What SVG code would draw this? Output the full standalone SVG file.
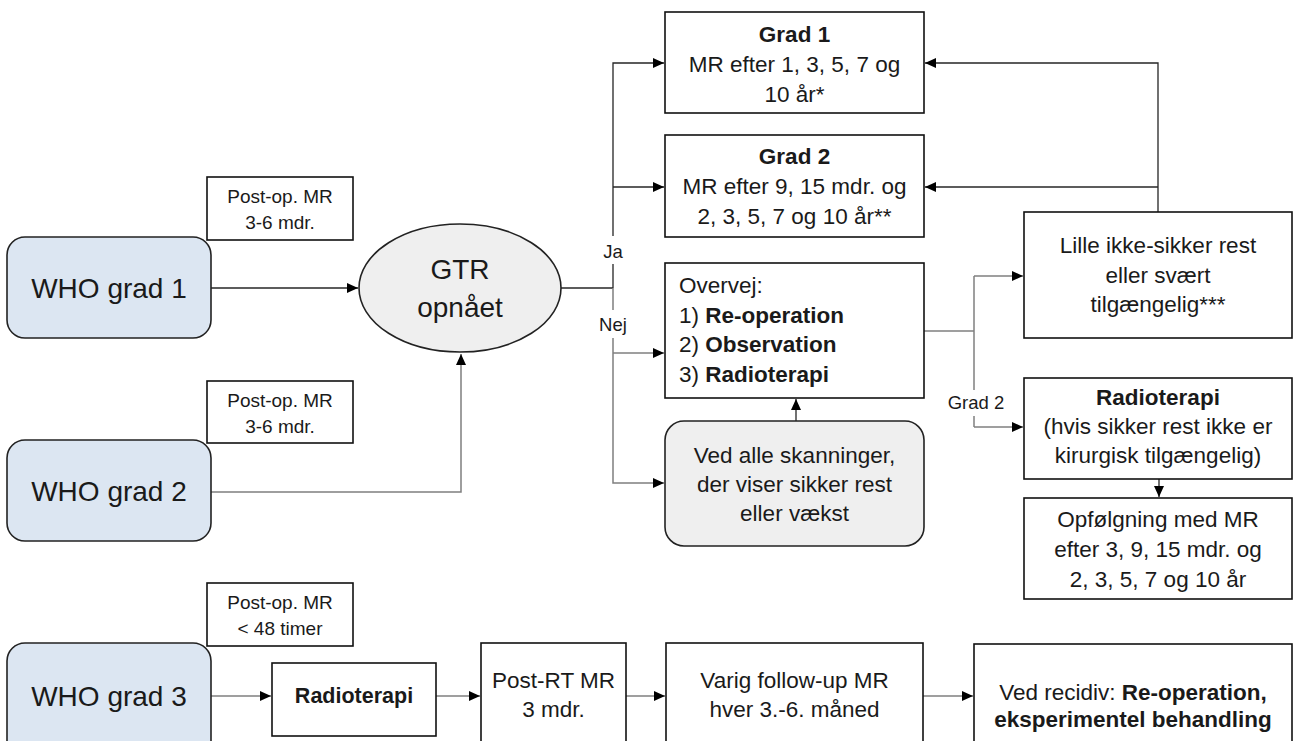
<svg xmlns="http://www.w3.org/2000/svg" width="1294" height="741" viewBox="0 0 1294 741">
<style>
text{font-family:"Liberation Sans",Arial,sans-serif;fill:#1a1a1a}
.t{font-size:22.5px;text-anchor:middle}
.tl{font-size:22.5px}
.big{font-size:28px;text-anchor:middle}
.sm{font-size:19px;text-anchor:middle}
.lbl{font-size:18.5px;text-anchor:middle}
.b{font-weight:bold}
.box{fill:#fff;stroke:#111;stroke-width:1.6}
.who{fill:#dce6f2;stroke:#222;stroke-width:1.6}
.grey{fill:#efefef;stroke:#222;stroke-width:1.6}
.cd{fill:none;stroke:#262626;stroke-width:1.3}
.cg{fill:none;stroke:#7f7f7f;stroke-width:1.5}
</style>
<defs>
<marker id="ah" markerUnits="userSpaceOnUse" markerWidth="11" markerHeight="10" refX="11" refY="5" orient="auto">
<path d="M0,0 L11,5 L0,10 z" fill="#000"/>
</marker>
</defs>
<rect width="1294" height="741" fill="#fff"/>

<g id="connectors">
<path class="cd" d="M211 288 H358" marker-end="url(#ah)"/>
<path class="cd" d="M560 288 H613"/>
<path class="cd" d="M613 288 V63 H664" marker-end="url(#ah)"/>
<path class="cd" d="M613 187 H664" marker-end="url(#ah)"/>
<path class="cg" d="M211 492 H461 V354" marker-end="url(#ah)"/>
<path class="cg" d="M613 288 V483 H664" marker-end="url(#ah)"/>
<path class="cg" d="M613 353 H664" marker-end="url(#ah)"/>
<path class="cd" d="M796 421 V399" marker-end="url(#ah)"/>
<path class="cg" d="M924 331 H974"/>
<path class="cg" d="M974 276 V427"/>
<path class="cg" d="M974 276 H1023" marker-end="url(#ah)"/>
<path class="cg" d="M974 427 H1023" marker-end="url(#ah)"/>
<path class="cd" d="M1158 212 V63 H925" marker-end="url(#ah)"/>
<path class="cd" d="M1158 187 H925" marker-end="url(#ah)"/>
<path class="cd" d="M1159 479 V497" marker-end="url(#ah)"/>
<path class="cg" d="M211 696 H271" marker-end="url(#ah)"/>
<path class="cg" d="M436 696 H480" marker-end="url(#ah)"/>
<path class="cg" d="M626 696 H665" marker-end="url(#ah)"/>
<path class="cg" d="M923 696 H973" marker-end="url(#ah)"/>
<g id="labels">
<rect x="600" y="236" width="26" height="28" fill="#fff"/>
<text class="lbl" x="613" y="258">Ja</text>
<rect x="596" y="310" width="34" height="28" fill="#fff"/>
<text class="lbl" x="613" y="331">Nej</text>
<rect x="946" y="390" width="60" height="26" fill="#fff"/>
<text class="lbl" x="976" y="409">Grad 2</text>
</g>
</g>

<g id="who1">
<rect class="who" x="7" y="237" width="204" height="101" rx="18"/>
<text class="big" x="109" y="298">WHO grad 1</text>
</g>
<g id="who2">
<rect class="who" x="7" y="440" width="204" height="101" rx="18"/>
<text class="big" x="109" y="501">WHO grad 2</text>
</g>
<g id="who3">
<rect class="who" x="7" y="643" width="204" height="120" rx="18"/>
<text class="big" x="109" y="706">WHO grad 3</text>
</g>

<g id="postop1">
<rect class="box" x="207" y="177" width="146" height="63"/>
<text class="sm" x="280" y="203">Post-op. MR</text>
<text class="sm" x="280" y="229">3-6 mdr.</text>
</g>
<g id="postop2">
<rect class="box" x="207" y="381" width="146" height="62"/>
<text class="sm" x="280" y="407">Post-op. MR</text>
<text class="sm" x="280" y="433">3-6 mdr.</text>
</g>
<g id="postop3">
<rect class="box" x="207" y="583" width="146" height="63"/>
<text class="sm" x="280" y="609">Post-op. MR</text>
<text class="sm" x="280" y="635">&lt; 48 timer</text>
</g>

<g id="gtr">
<ellipse class="grey" cx="460" cy="288" rx="101" ry="64"/>
<text class="big" x="460" y="279">GTR</text>
<text class="big" x="460" y="317">opnået</text>
</g>

<g id="grad1">
<rect class="box" x="665" y="12" width="259" height="101"/>
<text class="t b" x="794.5" y="42">Grad 1</text>
<text class="t" x="794.5" y="72">MR efter 1, 3, 5, 7 og</text>
<text class="t" x="794.5" y="102">10 år*</text>
</g>
<g id="grad2">
<rect class="box" x="665" y="135" width="259" height="102"/>
<text class="t b" x="794.5" y="164">Grad 2</text>
<text class="t" x="794.5" y="194">MR efter 9, 15 mdr. og</text>
<text class="t" x="794.5" y="224">2, 3, 5, 7 og 10 år**</text>
</g>
<g id="overvej">
<rect class="box" x="665" y="263" width="259" height="135"/>
<text class="tl" x="679" y="293">Overvej:</text>
<text class="tl" x="679" y="323">1) <tspan class="b">Re-operation</tspan></text>
<text class="tl" x="679" y="352">2) <tspan class="b">Observation</tspan></text>
<text class="tl" x="679" y="382">3) <tspan class="b">Radioterapi</tspan></text>
</g>
<g id="vedalle">
<rect class="grey" x="665" y="421" width="259" height="125" rx="19"/>
<text class="t" x="794.5" y="463">Ved alle skanninger,</text>
<text class="t" x="794.5" y="492">der viser sikker rest</text>
<text class="t" x="794.5" y="521">eller vækst</text>
</g>

<g id="lille">
<rect class="box" x="1024" y="212" width="268" height="126"/>
<text class="t" x="1158" y="253">Lille ikke-sikker rest</text>
<text class="t" x="1158" y="283">eller svært</text>
<text class="t" x="1158" y="312">tilgængelig***</text>
</g>
<g id="radio2">
<rect class="box" x="1024" y="378" width="268" height="101"/>
<text class="t b" x="1158" y="405">Radioterapi</text>
<text class="t" x="1158" y="434">(hvis sikker rest ikke er</text>
<text class="t" x="1158" y="463">kirurgisk tilgængelig)</text>
</g>
<g id="opfolgning">
<rect class="box" x="1024" y="498" width="268" height="101"/>
<text class="t" x="1158" y="527">Opfølgning med MR</text>
<text class="t" x="1158" y="557">efter 3, 9, 15 mdr. og</text>
<text class="t" x="1158" y="587">2, 3, 5, 7 og 10 år</text>
</g>

<g id="radio3">
<rect class="box" x="272" y="663" width="164" height="73"/>
<text class="t b" x="354" y="703" style="font-size:21.5px">Radioterapi</text>
</g>
<g id="postrt">
<rect class="box" x="481" y="643" width="145" height="120"/>
<text class="t" x="553.5" y="688">Post-RT MR</text>
<text class="t" x="553.5" y="717">3 mdr.</text>
</g>
<g id="varig">
<rect class="box" x="666" y="643" width="257" height="120"/>
<text class="t" x="794.5" y="688">Varig follow-up MR</text>
<text class="t" x="794.5" y="717">hver 3.-6. måned</text>
</g>
<g id="recidiv">
<rect class="box" x="974" y="644" width="318" height="120"/>
<text class="t" x="1133" y="700">Ved recidiv: <tspan class="b">Re-operation,</tspan></text>
<text class="t b" x="1133" y="727">eksperimentel behandling</text>
</g>
</svg>
